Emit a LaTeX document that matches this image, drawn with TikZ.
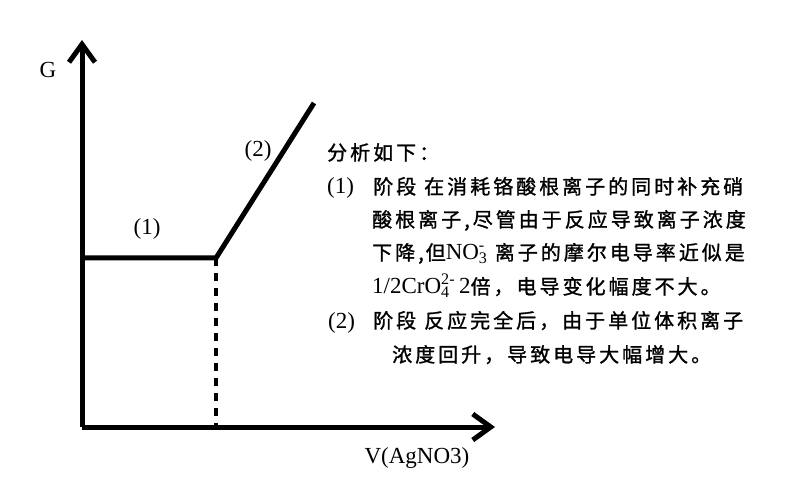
\documentclass[tikz,border=0pt]{standalone}
\usepackage{fontspec}
\setmainfont{Liberation Serif}
\newfontfamily\cjk[LetterSpace=15,FakeBold=1.2]{Noto Sans CJK SC}
\usetikzlibrary{arrows.meta}
\tikzset{
  axisline/.style={line width=5pt, -{Straight Barb[length=18pt,width=26pt,line width=5pt]}},
  curveline/.style={line width=5pt, line cap=butt},
  dropline/.style={line width=4.5pt, dash pattern=on 8pt off 7pt},
  lbl/.style={font=\fontsize{23}{26}\selectfont, inner sep=0pt},
  txt/.style={font=\fontsize{20}{24}\selectfont\cjk, anchor=west, inner sep=0pt, text height=16pt, text depth=4pt},
}
\newcommand{\lat}[1]{{\fontsize{23}{26}\selectfont\rmfamily #1}}
\begin{document}
\begin{tikzpicture}[x=1pt,y=-1pt]
\useasboundingbox (0,0) rectangle (800,494);
\fill[white] (0,0) rectangle (800,494);
\coordinate (O) at (82,427);
\coordinate (ytip) at (82,40);
\coordinate (xtip) at (495,427);
\coordinate (h0) at (80,258);
\coordinate (k) at (216,258);
\coordinate (kb) at (216,427);
\coordinate (top) at (314,103);
\draw[axisline] (O) -- (ytip);
\draw[axisline] (O) -- (xtip);
\draw[curveline] (h0) -- (k) -- (top);
\draw[dropline] (k) -- (kb);
\node[lbl] (G) at (48,70) {G};
\node[lbl] (s1) at (147,229) {(1)};
\node[lbl] (s2) at (258,151) {(2)};
\node[lbl] (V) at (417,458) {V(AgNO3)};
\node[txt] (t0) at (327,154) {分析如下：};
\node[txt] (t1) at (327,188) {\makebox[46pt][l]{\lat{(1)}}阶段\hspace{8pt}在消耗铬酸根离子的同时补充硝};
\node[txt] (t2) at (372,221) {酸根离子,尽管由于反应导致离子浓度};
\node[txt] (t3) at (372,254) {下降,\hspace{2pt}但\lat{NO\rlap{\textsubscript{3}}\textsuperscript{-}}\hspace{10pt}离子的摩尔电导率近似是};
\node[txt] (t4) at (372,288) {\lat{1/2CrO\rlap{\textsubscript{4}}\textsuperscript{2-}\hspace{4pt}2}倍，电导变化幅度不大。};
\node[txt] (t5) at (328,322) {\makebox[45pt][l]{\lat{(2)}}阶段\hspace{8pt}反应完全后，由于单位体积离子};
\node[txt] (t6) at (392,356) {浓度回升，导致电导大幅增大。};
\end{tikzpicture}
\end{document}
